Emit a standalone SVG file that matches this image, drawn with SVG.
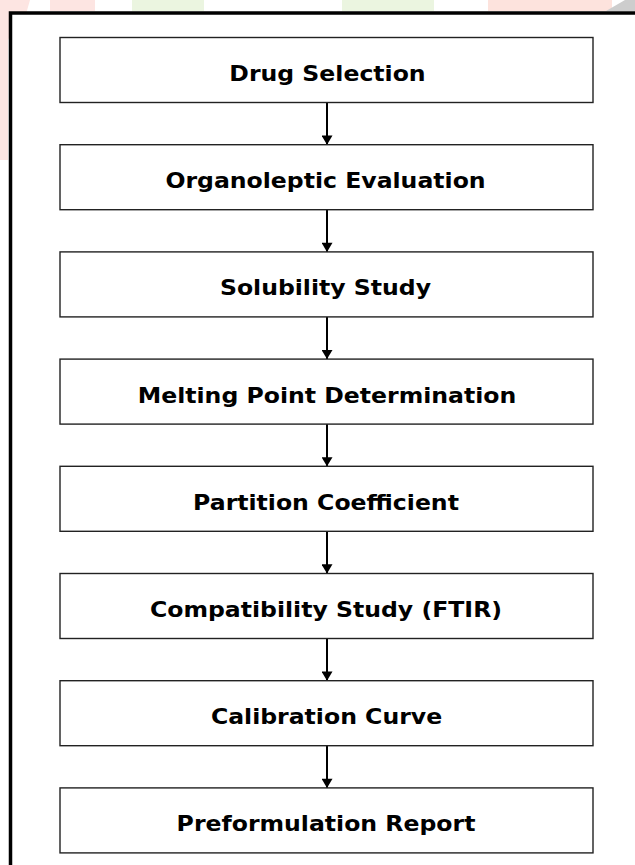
<svg xmlns="http://www.w3.org/2000/svg" width="635" height="865" viewBox="0 0 635 865">
  <defs>
    <style>
      .box { fill: #ffffff; stroke: #222222; stroke-width: 1.4; }
      .label { font-family: "DejaVu Sans", "Liberation Sans", sans-serif; font-weight: bold; font-size: 20.5px; fill: #000000; text-anchor: middle; }
      .link { stroke: #000000; stroke-width: 2; fill: none; }
    </style>
    <marker id="head" viewBox="0 0 10 12" refX="10" refY="6" markerWidth="12" markerHeight="11" markerUnits="userSpaceOnUse" orient="auto">
      <path d="M0,0 L10,6 L0,12 Z" fill="#000000"/>
    </marker>
  </defs>

  <!-- page background with faint coloured print showing through at the top -->
  <rect x="0" y="0" width="635" height="865" fill="#ffffff"/>
  <g id="backdrop" opacity="0.9">
    <path d="M0,0 L30,0 L26,14 L18,20 L8,40 L8,160 L0,160 Z" fill="#fde3df"/>
    <rect x="50" y="0" width="45" height="11" fill="#fde3df"/>
    <rect x="132" y="0" width="72" height="11" fill="#e9f4dd"/>
    <rect x="342" y="0" width="92" height="11" fill="#e9f4dd"/>
    <rect x="488" y="0" width="124" height="11" fill="#fde0da"/>
    <path d="M606,11 L625,0 L635,0 L635,11 Z" fill="#c8c8c8"/>
  </g>

  <!-- outer frame, running off the right and bottom edges -->
  <rect x="10.5" y="13" width="640" height="870" fill="#ffffff" stroke="#000000" stroke-width="3.5"/>

  <!-- connectors -->
  <g id="connectors">
    <line class="link" x1="327" y1="102.5" x2="327" y2="144.7" marker-end="url(#head)"/>
    <line class="link" x1="327" y1="209.7" x2="327" y2="251.9" marker-end="url(#head)"/>
    <line class="link" x1="327" y1="316.9" x2="327" y2="359.1" marker-end="url(#head)"/>
    <line class="link" x1="327" y1="424.1" x2="327" y2="466.3" marker-end="url(#head)"/>
    <line class="link" x1="327" y1="531.3" x2="327" y2="573.5" marker-end="url(#head)"/>
    <line class="link" x1="327" y1="638.5" x2="327" y2="680.7" marker-end="url(#head)"/>
    <line class="link" x1="327" y1="745.7" x2="327" y2="787.9" marker-end="url(#head)"/>
  </g>

  <!-- process steps; labels are set in a horizontally widened bold face -->
  <g id="drug-selection">
    <rect class="box" x="60" y="37.5" width="533" height="65"/>
    <text class="label" transform="translate(327.5 81) scale(1.15 1)">Drug Selection</text>
  </g>
  <g id="organoleptic-evaluation">
    <rect class="box" x="60" y="144.7" width="533" height="65"/>
    <text class="label" transform="translate(325.5 188.2) scale(1.15 1)">Organoleptic Evaluation</text>
  </g>
  <g id="solubility-study">
    <rect class="box" x="60" y="251.9" width="533" height="65"/>
    <text class="label" transform="translate(325.5 295.4) scale(1.15 1)">Solubility Study</text>
  </g>
  <g id="melting-point">
    <rect class="box" x="60" y="359.1" width="533" height="65"/>
    <text class="label" transform="translate(327 402.6) scale(1.15 1)">Melting Point Determination</text>
  </g>
  <g id="partition-coefficient">
    <rect class="box" x="60" y="466.3" width="533" height="65"/>
    <text class="label" transform="translate(326 509.8) scale(1.15 1)">Partition Coefficient</text>
  </g>
  <g id="compatibility-study">
    <rect class="box" x="60" y="573.5" width="533" height="65"/>
    <text class="label" transform="translate(326 617) scale(1.15 1)">Compatibility Study (FTIR)</text>
  </g>
  <g id="calibration-curve">
    <rect class="box" x="60" y="680.7" width="533" height="65"/>
    <text class="label" transform="translate(326.5 724.2) scale(1.15 1)">Calibration Curve</text>
  </g>
  <g id="preformulation-report">
    <rect class="box" x="60" y="787.9" width="533" height="65"/>
    <text class="label" transform="translate(326 831.4) scale(1.15 1)">Preformulation Report</text>
  </g>
</svg>
